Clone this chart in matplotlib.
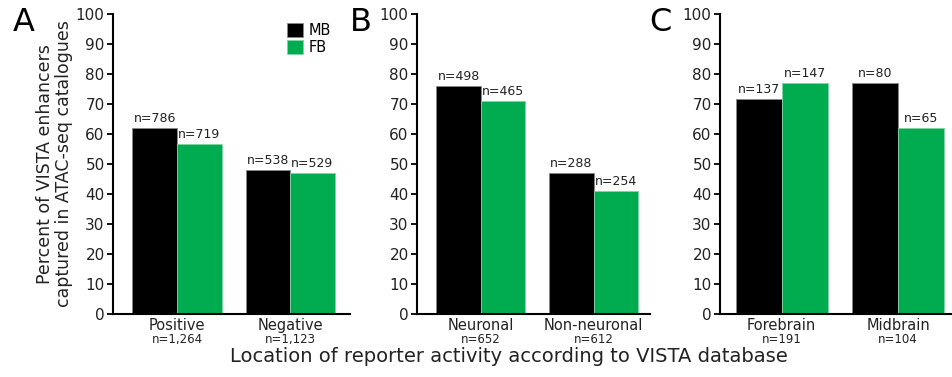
import matplotlib.pyplot as plt
import numpy as np

# Data
panels = ['A', 'B', 'C']
categories = [['Positive', 'Negative'], ['Neuronal', 'Non-neuronal'], ['Forebrain', 'Midbrain']]
cat_n = [['n=1,264', 'n=1,123'], ['n=652', 'n=612'], ['n=191', 'n=104']]
mb_values = [[62, 48], [76, 47], [71.7, 77]]
fb_values = [[56.8, 47], [71, 41], [77, 62]]
mb_n = [['n=786', 'n=538'], ['n=498', 'n=288'], ['n=137', 'n=80']]
fb_n = [['n=719', 'n=529'], ['n=465', 'n=254'], ['n=147', 'n=65']]

black = '#000000'
green = '#00AC4F'

fig = plt.figure(figsize=(9.53, 3.77), dpi=100)
W, H = 953, 377
# axes boxes in pixels: left, right
boxes = [(113, 350), (417, 650), (720, 953)]
xlims = [(-0.566, 1.53), (-0.566, 1.5), (-0.53, 1.47)]
letters_x = [13, 350, 649]

bar_width = 0.394
index = np.arange(2)
for i in range(3):
    l, r = boxes[i]
    ax = fig.add_axes([l / W, (H - 314) / H, (r - l) / W, 300 / H])
    ax.bar(index - bar_width / 2, mb_values[i], width=bar_width, color=black,
           edgecolor='#888888', linewidth=0.6, label='MB')
    ax.bar(index + bar_width / 2, fb_values[i], width=bar_width, color=green,
           edgecolor='#7fd4a5', linewidth=0.6, label='FB')
    for j in range(2):
        ax.annotate(mb_n[i][j], (index[j] - bar_width / 2, mb_values[i][j]),
                    xytext=(0, 2), textcoords='offset points', ha='center', va='bottom',
                    fontsize=9, color='#222222')
        ax.annotate(fb_n[i][j], (index[j] + bar_width / 2, fb_values[i][j]),
                    xytext=(0, 2), textcoords='offset points', ha='center', va='bottom',
                    fontsize=9, color='#222222')
        ax.annotate(cat_n[i][j], (index[j], 0), xycoords=('data', 'axes fraction'),
                    xytext=(0, -13.5), textcoords='offset points', ha='center', va='top',
                    fontsize=8.5, color='#222222')
    ax.set_xlim(*xlims[i])
    ax.set_ylim(0, 100)
    ax.set_yticks(range(0, 101, 10))
    ax.set_xticks(index)
    ax.set_xticklabels(categories[i], fontsize=10.5, color='#222222')
    ax.tick_params(axis='x', length=0, pad=3)
    ax.tick_params(axis='y', length=4, width=1.3, labelsize=11, labelcolor='#222222', pad=2)
    for s in ['top', 'right']:
        ax.spines[s].set_visible(False)
    for s in ['left', 'bottom']:
        ax.spines[s].set_linewidth(1.5)
    fig.text(letters_x[i] / W, 1 - 7 / H, panels[i], fontsize=23, ha='left', va='top')
    if i == 0:
        ax.set_ylabel('Percent of VISTA enhancers\ncaptured in ATAC-seq catalogues',
                      fontsize=12.5, color='#222222', labelpad=2, linespacing=1.1)
        ax.legend(loc='upper right', bbox_to_anchor=(0.946, 0.99), frameon=False,
                  handlelength=1.1, handleheight=1.1, handletextpad=0.4,
                  labelspacing=0.15, fontsize=10.5, borderaxespad=0.0)

fig.text(509 / W, 1 - 357 / H, 'Location of reporter activity according to VISTA database',
         fontsize=14, ha='center', va='center', color='#222222')

plt.savefig('out.png', dpi=100)
